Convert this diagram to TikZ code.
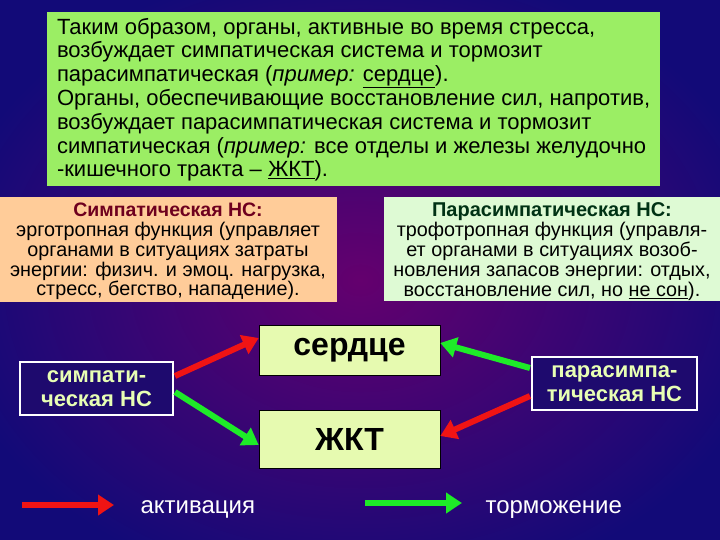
\documentclass[tikz,border=0pt]{standalone}
\usepackage{fontspec}
\setmainfont{Liberation Sans}
\usetikzlibrary{arrows.meta}
\definecolor{bgin}{RGB}{100,0,110}
\definecolor{bgout}{RGB}{18,10,120}
\definecolor{topgreen}{RGB}{155,238,100}
\definecolor{peach}{RGB}{255,204,153}
\definecolor{palegreen}{RGB}{222,250,212}
\definecolor{organfill}{RGB}{230,250,176}
\definecolor{navybox}{RGB}{30,10,110}
\definecolor{sidetext}{RGB}{232,255,180}
\definecolor{arrred}{RGB}{240,20,20}
\definecolor{arrgreen}{RGB}{30,235,40}
\definecolor{maroon}{RGB}{110,0,30}
\definecolor{darkgr}{RGB}{0,50,20}
\tikzset{
  infobox/.style={inner sep=0pt, outer sep=0pt},
  ntext/.style={infobox, align=center, anchor=north, font=\fontsize{19.8}{19.8}\selectfont},
  organ/.style={draw=black, line width=0.6pt, fill=organfill, minimum width=181pt, font=\fontsize{32}{34}\selectfont\bfseries},
  sidebox/.style={draw=white, line width=1.5pt, fill=navybox, align=center, text=sidetext, font=\fontsize{22}{23.5}\selectfont\bfseries},
  actarrow/.style={draw=arrred, line width=6pt, -{Triangle[length=16pt,width=20pt]}},
  inharrow/.style={draw=arrgreen, line width=6pt, -{Triangle[length=16pt,width=20pt]}},
  legend/.style={anchor=base west, text=white, font=\fontsize{24}{26}\selectfont},
}
\begin{document}
\begin{tikzpicture}[x=1pt,y=-1pt]
\useasboundingbox (0,0) rectangle (720,540);
\shade[inner color=bgin, outer color=bgout] (-60,-40) rectangle (780,600);
% top green box
\fill[topgreen] (47,12) rectangle (660,186);
\node[infobox, anchor=north west, align=left, font=\fontsize{22}{23.8}\selectfont] (top) at (57,18)
 {Таким образом, органы, активные во время стресса,\\
 возбуждает симпатическая система и тормозит\\
 парасимпатическая (\textit{пример:} \underline{сердце}).\\
 Органы, обеспечивающие восстановление сил, напротив,\\
 возбуждает парасимпатическая система и тормозит\\
 симпатическая (\textit{пример:} все отделы и железы желудочно\\
 -кишечного тракта -- \underline{ЖКТ}).};
% left peach box
\fill[peach] (0,197) rectangle (337,302);
\node[ntext] (symp) at (168,203)
 {\textcolor{maroon}{\textbf{\fontsize{19.5}{19.8}\selectfont Симпатическая НС:}}\\
 эрготропная функция (управляет\\
 органами в ситуациях затраты\\
 энергии: физич. и эмоц. нагрузка,\\
 стресс, бегство, нападение).};
% right pale green box
\fill[palegreen] (384,197) rectangle (720,301);
\node[ntext] (para) at (552,203)
 {\textcolor{darkgr}{\textbf{\fontsize{20}{19.8}\selectfont Парасимпатическая НС:}}\\
 трофотропная функция (управля-\\
 ет органами в ситуациях возоб-\\
 новления запасов энергии: отдых,\\
 восстановление сил, но \underline{не сон}).};
% organs
\node[organ, minimum height=50pt] (heart) at (349.5,350) {сердце};
\node[organ, minimum height=58pt] (gut) at (349.5,439) {ЖКТ};
% side boxes
\node[sidebox, minimum width=153pt, minimum height=53pt] (sns) at (96.5,388.5) {симпати-\\ческая НС};
\node[sidebox, minimum width=165pt, minimum height=53pt] (psns) at (614.5,383.5) {парасимпа-\\тическая НС};
% arrows
\coordinate (s1) at (175,376);
\coordinate (s2) at (175,392);
\coordinate (p1) at (530,368);
\coordinate (p2) at (530,396);
\draw[actarrow] (s1) -- (heart.west |- 0,338);
\draw[inharrow] (s2) -- (gut.west |- 0,445);
\draw[inharrow] (p1) -- (heart.east |- 0,343);
\draw[actarrow] (p2) -- (gut.east |- 0,436);
% legend
\coordinate (la1) at (22,505);
\coordinate (la2) at (114,505);
\coordinate (lb1) at (365,503);
\coordinate (lb2) at (462,503);
\draw[actarrow] (la1) -- (la2);
\draw[inharrow] (lb1) -- (lb2);
\node[legend] (act) at (137,513) {активация};
\node[legend] (inh) at (482,513) {торможение};
\end{tikzpicture}
\end{document}
